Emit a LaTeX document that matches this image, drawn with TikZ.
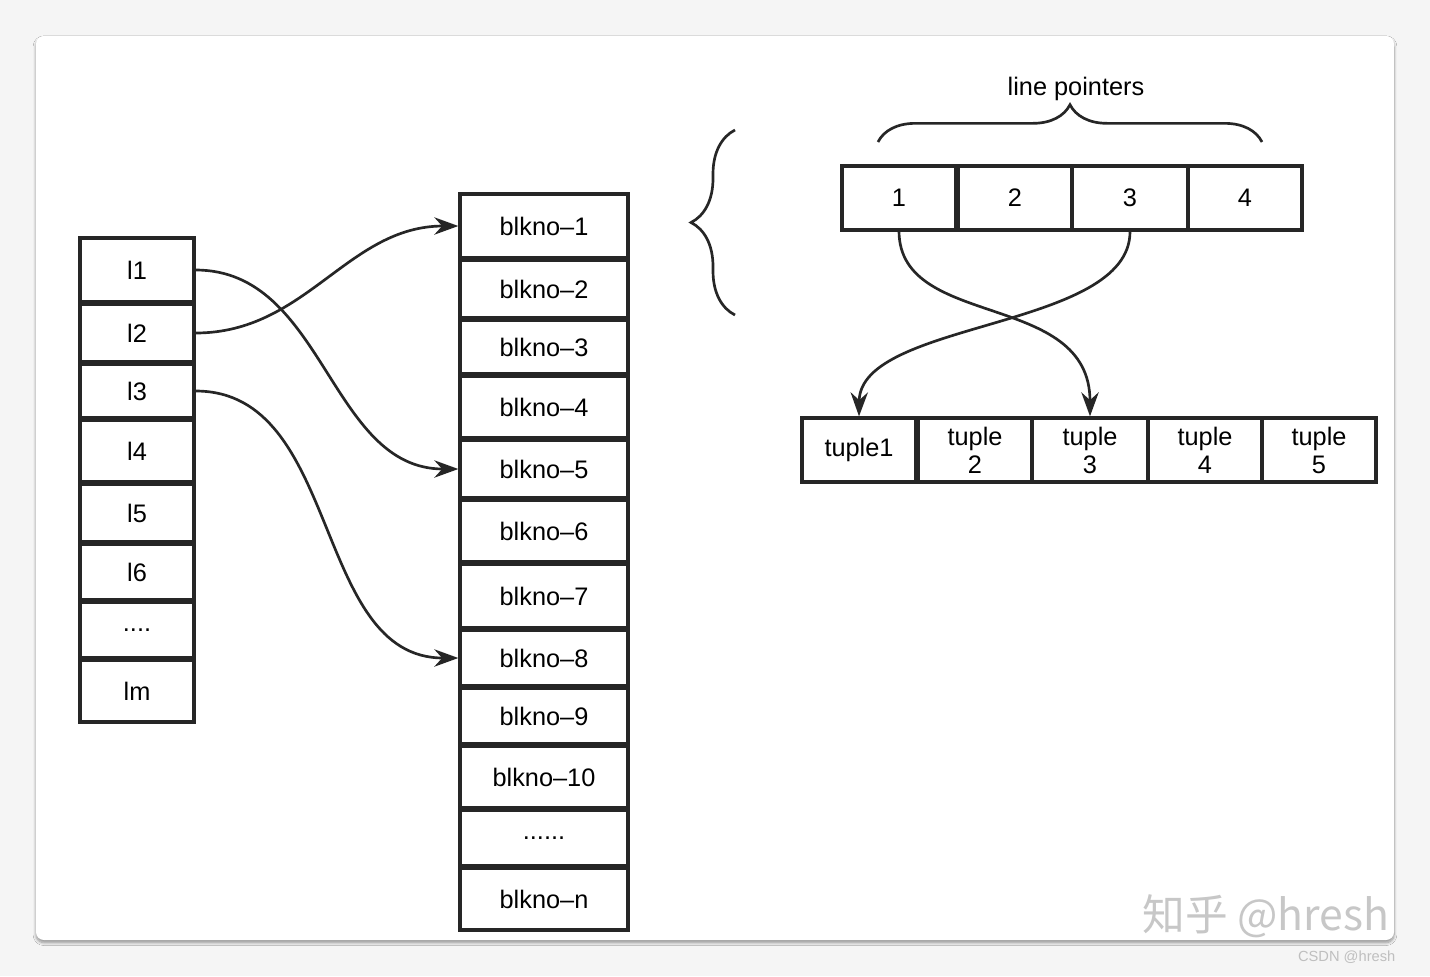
\documentclass[tikz,border=0pt]{standalone}
\usepackage{fontspec}
\setmainfont{Liberation Sans}
\newfontfamily\cjk{Noto Sans CJK SC}
\usetikzlibrary{arrows.meta,decorations.pathreplacing,shadows.blur}
\def\mydotsA{....}
\def\mydotsB{......}
\begin{document}
\begin{tikzpicture}[x=0.75pt,y=-0.75pt,
  cell/.style={draw=black!85,line width=2.5pt,fill=white,font=\fontsize{19}{21}\selectfont,align=center},
  conn/.style={draw=black!85,line width=2pt,-{Stealth[length=18pt,width=13pt]}}]
\useasboundingbox (0,0) rectangle (1430,976);
\fill[black!4] (0,0) rectangle (1430,976);
\fill[white,rounded corners=6pt,blur shadow={shadow blur steps=8,shadow xshift=0pt,shadow yshift=-2pt}] (36,36) rectangle (1394,940);
% left column
\foreach \n/\a/\b/\t in {l1/238/302/l1,l2/304/362/l2,l3/364/418/l3,l4/420/482/l4,l5/484/542/l5,l6/544/600/l6,ld/602/658/\mydotsA,lm/660/722/lm}{
  \node[cell,minimum width=114*0.75pt,minimum height={(\b-\a)*0.75pt}] (\n) at (137,{(\a+\b)/2}) {\t};
}
% middle column
\foreach \n/\a/\b/\t in {b1/194/258/blkno{\textendash}1,b2/260/318/blkno{\textendash}2,b3/320/374/blkno{\textendash}3,b4/376/438/blkno{\textendash}4,b5/440/498/blkno{\textendash}5,b6/500/562/blkno{\textendash}6,b7/564/628/blkno{\textendash}7,b8/630/686/blkno{\textendash}8,b9/688/744/blkno{\textendash}9,b10/746/808/blkno{\textendash}10,bd/810/866/\mydotsB,bn/868/930/blkno{\textendash}n}{
  \node[cell,minimum width=168*0.75pt,minimum height={(\b-\a)*0.75pt}] (\n) at (544,{(\a+\b)/2}) {\t};
}
\draw[conn] (l1.east) to[out=0,in=180] (b5.west);
\draw[conn] (l2.east) to[out=0,in=180] (b1.west);
\draw[conn] (l3.east) to[out=0,in=180] (b8.west);
% brace
\draw[line width=2pt,black!85,decorate,decoration={brace,amplitude=33pt}] (735,315) -- (735,130);
% line pointers
\foreach \n/\x/\w/\t in {p1/899/114/1,p2/1015/114/2,p3/1130/116/3,p4/1245/114/4}{
  \node[cell,minimum width=\w*0.75pt,minimum height=64*0.75pt] (\n) at (\x,198) {\t};
}
\coordinate (bl) at (878,142); \coordinate (br) at (1262,142);
\draw[line width=2pt,black!85,decorate,decoration={brace,amplitude=28pt}] (bl) -- (br);
\node[font=\fontsize{19}{21}\selectfont] (lp) at (1076,89) {line pointers};
% tuples
\foreach \n/\x/\w/\t in {t1/859/114/tuple1,t2/975/114/{tuple\\2},t3/1090/116/{tuple\\3},t4/1205/114/{tuple\\4},t5/1319/114/{tuple\\5}}{
  \node[cell,minimum width=\w*0.75pt,minimum height=64*0.75pt,inner sep=1pt] (\n) at (\x,450) {\t};
}
\draw[conn] (p1.south) .. controls (900,330) and (1090,290) .. (t3.north);
\draw[conn] (p3.south) .. controls (1130,330) and (860,320) .. (t1.north);
% watermark
\node[text=black!22,font=\cjk\fontsize{32}{34}\selectfont,anchor=east] (wm) at (1394,916) {知乎 @hresh};
\node[text=black!25,font=\fontsize{11}{12}\selectfont,anchor=east] (cs) at (1400,957) {CSDN @hresh};
\end{tikzpicture}
\end{document}
